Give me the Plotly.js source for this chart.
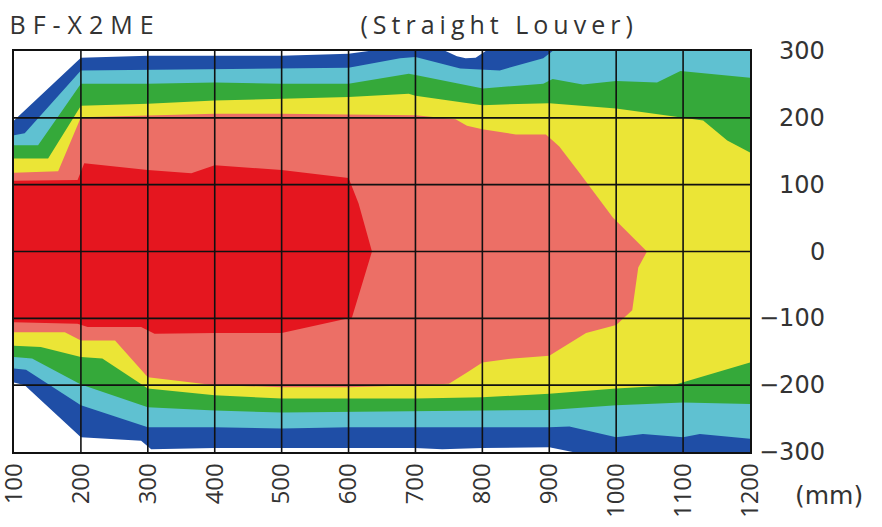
<!DOCTYPE html>
<html>
<head>
<meta charset="utf-8">
<script src="https://cdn.plot.ly/plotly-3.0.1.min.js"></script>
<style>html,body{margin:0;padding:0;background:#fff;}#chart{width:882px;height:527px;}</style>
</head>
<body>
<div id="chart"></div>
<script>
// ---- Data: band boundaries (distance mm on x, lateral offset mm on y) ----
const blueTopX   = [100,200,300,400,500,600,630,745,762,775,790,805,1200];
const blueTopY   = [196,290,293,293,293,296,300,300,292,289,290,300,300];
const blueBotX   = [100,116,200,290,305,400,500,600,700,740,800,900,935,1200];
const blueBotY   = [-196,-200,-278,-283,-296,-294,-294,-294,-294,-296,-294,-293,-300,-300];

const cyanTopX   = [100,116,200,300,400,500,600,677,700,767,826,891,905,1200];
const cyanTopY   = [174,177,271,272,273,274,275,289,291,274,271,289,300,300];
const cyanBotX   = [100,118,200,300,400,500,600,700,800,900,930,1000,1040,1100,1125,1200];
const cyanBotY   = [-175,-177,-230,-263,-263,-265,-263,-263,-263,-263,-262,-278,-273,-278,-273,-280];

const greenTopX  = [100,136,200,300,400,500,600,690,700,801,891,905,950,1000,1061,1096,1200];
const greenTopY  = [159,159,251,251,253,251,251,266,264,244,251,258,250,255,253,270,260];
const greenBotX  = [100,127,200,300,400,500,600,700,800,900,1000,1100,1200];
const greenBotY  = [-158,-160,-199,-233,-238,-241,-239,-238,-238,-237,-230,-226,-228];

const yellowTopX = [100,151,200,300,400,500,600,690,700,800,900,1000,1100,1130,1166,1200];
const yellowTopY = [139,139,218,221,226,229,231,236,233,219,222,214,201,196,166,148];
const yellowBotX = [100,140,200,232,300,400,500,600,700,800,900,1000,1085,1100,1200];
const yellowBotY = [-141,-143,-158,-160,-205,-215,-220,-220,-220,-218,-213,-205,-200,-196,-166];

const salmonTopX = [100,166,200,300,400,500,600,700,760,777,800,850,895,915,945,965,995,1046];
const salmonTopY = [118,120,201,204,206,206,205,204,198,188,183,175,175,157,118,91,51,0];
const salmonBotX = [100,176,200,251,300,400,500,600,700,750,777,800,846,900,925,955,1000,1024,1033,1046];
const salmonBotY = [-121,-121,-133,-133,-188,-200,-203,-203,-200,-198,-181,-166,-160,-156,-140,-122,-110,-88,-24,0];

const redTopX    = [100,195,205,300,365,400,500,600,615,635];
const redTopY    = [106,107,132,122,117,129,122,110,72,0];
const redBotX    = [100,195,210,290,310,400,500,600,605,622,635];
const redBotY    = [-106,-108,-113,-113,-123,-122,-122,-100,-99,-43,0];

const xTickVals = [100,200,300,400,500,600,700,800,900,1000,1100,1200];
const xTickText = ['100','200','300','400','500','600','700','800','900','1000','1100','1200'];
const yTickVals = [300,200,100,0,-100,-200,-300];
const yTickText = ['300','200','100','0','\u2212100','\u2212200','\u2212300'];

const bandColors = {
  blue:'#1f4ea6', cyan:'#5fc1d1', green:'#35a93a', yellow:'#ebe536', salmon:'#ec6f66', red:'#e5161f'
};

function band(tx, ty, bx, by, color){
  return {
    type:'scatter', mode:'lines',
    x: tx.concat(bx.slice().reverse()),
    y: ty.concat(by.slice().reverse()),
    fill:'toself', fillcolor:color,
    line:{width:0, color:color},
    hoverinfo:'skip', showlegend:false
  };
}

const traces = [
  band(blueTopX, blueTopY, blueBotX, blueBotY, bandColors.blue),
  band(cyanTopX, cyanTopY, cyanBotX, cyanBotY, bandColors.cyan),
  band(greenTopX, greenTopY, greenBotX, greenBotY, bandColors.green),
  band(yellowTopX, yellowTopY, yellowBotX, yellowBotY, bandColors.yellow),
  band(salmonTopX, salmonTopY, salmonBotX, salmonBotY, bandColors.salmon),
  band(redTopX, redTopY, redBotX, redBotY, bandColors.red)
];

// grid drawn on top of the filled bands
const gx = [], gy = [];
xTickVals.slice(1, -1).forEach(v => { gx.push(v, v, null); gy.push(-300, 300, null); });
yTickVals.slice(1, -1).forEach(v => { gx.push(100, 1200, null); gy.push(v, v, null); });
traces.push({type:'scatter', mode:'lines', x:gx, y:gy, line:{color:'#111', width:1.6},
  hoverinfo:'skip', showlegend:false, connectgaps:false});

const txtColor = '#333333';
const titleFont = '"Open Sans", "DejaVu Sans", sans-serif';
const numFont = '"DejaVu Sans", sans-serif';

const annotations = yTickVals.map((v, i) => ({
  xref:'paper', yref:'y', x:1.1045, y:v, xanchor:'right', yanchor:'middle',
  text:yTickText[i], showarrow:false, font:{family:numFont, size:24, color:txtColor}
}));
annotations.push({xref:'paper', yref:'paper', x:0.0958, y:1.068, xanchor:'center', yanchor:'middle',
  text:'BF-X2ME', showarrow:false, font:{family:titleFont, size:25, color:txtColor}});
annotations.push({xref:'paper', yref:'paper', x:0.659, y:1.068, xanchor:'center', yanchor:'middle',
  text:'(Straight Louver)', showarrow:false, font:{family:titleFont, size:25, color:txtColor}});
annotations.push({xref:'paper', yref:'paper', x:1.108, y:-0.108, xanchor:'center', yanchor:'middle',
  text:'(mm)', showarrow:false, font:{family:numFont, size:25, color:txtColor}});

const layout = {
  width:882, height:527,
  margin:{l:14, r:132, t:51, b:75},
  paper_bgcolor:'#ffffff', plot_bgcolor:'#ffffff',
  showlegend:false,
  xaxis:{range:[100,1200], tickvals:xTickVals, ticktext:xTickText, tickangle:-90,
    ticklabeloverflow:'allow',
    showgrid:false, zeroline:false, showline:true, mirror:true, linecolor:'#111', linewidth:1.6,
    ticks:'', automargin:false, fixedrange:true,
    tickfont:{family:'"Open Sans", sans-serif', size:24, color:txtColor}},
  yaxis:{range:[-300,300], side:'right', showticklabels:false, showgrid:false, zeroline:false,
    showline:true, mirror:true, linecolor:'#111', linewidth:1.6, ticks:'', automargin:false, fixedrange:true},
  annotations:annotations
};

Plotly.newPlot('chart', traces, layout, {staticPlot:true, displayModeBar:false}).then(() => {
  document.querySelectorAll('.annotation-text').forEach(t => {
    const s = t.textContent;
    if (s === 'BF-X2ME') t.setAttribute('letter-spacing', '7px');
    if (s === '(Straight Louver)') t.setAttribute('letter-spacing', '5px');
  });
});
</script>
</body>
</html>
